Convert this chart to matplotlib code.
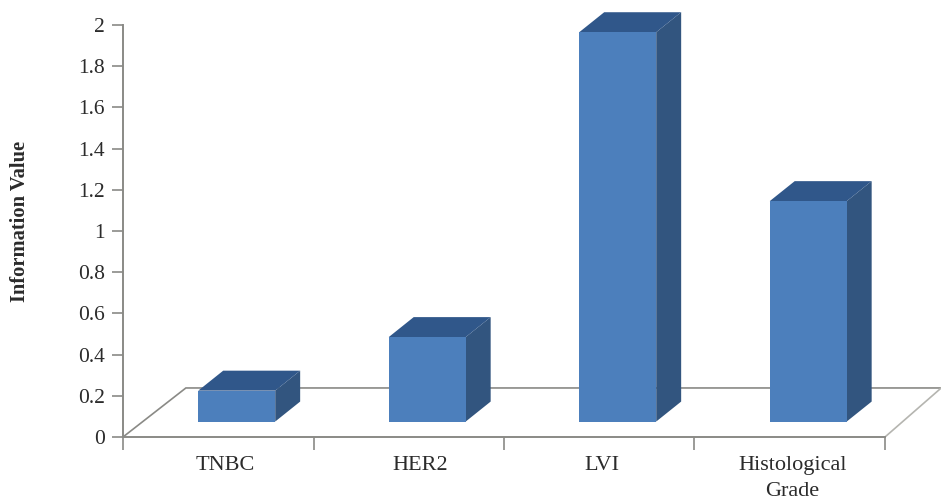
import numpy as np
import matplotlib
matplotlib.use("Agg")
import matplotlib.pyplot as plt
from matplotlib.patches import Polygon


# ── Data ─────────────────────────────────────────────────────────────────────
categories = ["TNBC", "HER2", "LVI", "Histological\nGrade"]
values = [0.15, 0.41, 1.89, 1.07]
y_ticks = [0, 0.2, 0.4, 0.6, 0.8, 1, 1.2, 1.4, 1.6, 1.8, 2]
y_tick_labels = ["0", "0.2", "0.4", "0.6", "0.8", "1", "1.2", "1.4", "1.6", "1.8", "2"]

# ── Fake 3D geometry, in axis units ──────────────────────────────────────────
BAR_SHIFT = 0.097     # bar centre vs. category centre
BAR_WIDTH = 0.404
BASE = 0.075          # front edge of the bars sits this far above 0
DEPTH_X = 0.131
DEPTH_Y = 0.097
FLOOR_DX = 0.33
FLOOR_DY = 0.238

FRONT = "#4C7FBC"
SIDE = "#32557F"
TOP = "#30578A"
LINE = "#8A8A86"
TEXT = "#2b2b2b"

plt.rcParams["font.family"] = ["Liberation Serif", "DejaVu Serif"]

fig = plt.figure(figsize=(9.41, 5.01), dpi=100)
ax = fig.add_axes([123 / 941, (501 - 437) / 501, (885 - 123) / 941, (437 - 25) / 501])
ax.set_xlim(0, 4)
ax.set_ylim(0, 2)

# Floor of the chart, behind the bars
n = len(categories)
ax.plot([0, FLOOR_DX, n + 0.295], [0, FLOOR_DY, FLOOR_DY], color=LINE, lw=1.2,
        clip_on=False, zorder=1, solid_joinstyle="miter")
ax.plot([n, n + 0.295], [0, FLOOR_DY], color="#b5b5b0", lw=1.2, clip_on=False, zorder=1)

# Bars: front face from the library, side and top faces as polygons
x = np.arange(n) + 0.5 + BAR_SHIFT
ax.bar(x, values, width=BAR_WIDTH, bottom=BASE, color=FRONT, zorder=3)
for xc, v in zip(x, values):
    x0 = xc - BAR_WIDTH / 2
    x1 = xc + BAR_WIDTH / 2
    top = BASE + v
    ax.add_patch(Polygon([(x1, BASE), (x1 + DEPTH_X, BASE + DEPTH_Y),
                          (x1 + DEPTH_X, top + DEPTH_Y), (x1, top)],
                         closed=True, color=SIDE, lw=0, clip_on=False, zorder=2))
    ax.add_patch(Polygon([(x0, top), (x0 + DEPTH_X, top + DEPTH_Y),
                          (x1 + DEPTH_X, top + DEPTH_Y), (x1, top)],
                         closed=True, color=TOP, lw=0, clip_on=False, zorder=2))

# Axes
for side in ["top", "right"]:
    ax.spines[side].set_visible(False)
for side in ["left", "bottom"]:
    ax.spines[side].set_color(LINE)
    ax.spines[side].set_linewidth(1.4)

ax.set_yticks(y_ticks)
ax.set_yticklabels(y_tick_labels, fontsize=15.5, color=TEXT, va="center_baseline")
ax.tick_params(axis="y", length=8, width=1.2, color=LINE, pad=5)

ax.set_xticks(np.arange(n + 1))
ax.set_xticklabels([])
ax.tick_params(axis="x", length=9, width=1.2, color=LINE)

# Category labels
label_x = np.arange(n) + 0.5 + np.array([0.035, 0.06, 0.015, 0.015])
for lx, name in zip(label_x, categories):
    ax.annotate(name, (lx, 0), xytext=(0, -14), xycoords="data",
                textcoords="offset points", ha="center", va="top",
                fontsize=16, color=TEXT, linespacing=1.45, annotation_clip=False)

fig.text(20 / 941, 1 - 221 / 501, "Information Value", rotation=90, ha="center", va="center",
         fontsize=14.8, fontweight="bold", color=TEXT)

fig.savefig("out.png", dpi=100)
